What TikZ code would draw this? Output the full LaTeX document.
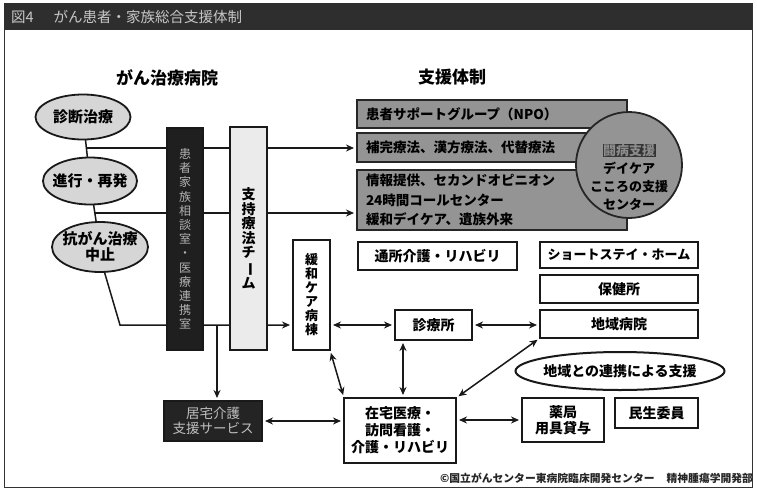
\documentclass[tikz,border=0pt]{standalone}
\usepackage{fontspec}
\setmainfont{Noto Sans CJK JP}
\usepackage{graphicx}
\usetikzlibrary{arrows.meta,shapes.geometric,backgrounds}
\tikzset{
  every node/.style={inner sep=0pt, outer sep=0pt},
  wbox/.style={draw=black!90, line width=1.8pt, fill=white, align=center,
    font=\bfseries\fontsize{14}{17}\selectfont},
  sbox/.style={draw=black!85, line width=1.8pt, fill=black!42, align=left,
    inner xsep=9pt, text width=252pt, minimum width=270pt,
    font=\bfseries\fontsize{13.5}{19.5}\selectfont},
  oval/.style={ellipse, draw=black!90, line width=1.8pt, fill=black!16},
  ovtext/.style={align=center, font=\bfseries\fontsize{15}{16}\selectfont},
  vbar/.style={draw=black!90, line width=1.5pt, align=center},
  conn/.style={line width=1.5pt, draw=black!90},
  arr/.style={conn, -{Stealth[length=8pt,width=7pt]}, shorten >=3pt},
  darr/.style={conn, {Stealth[length=8pt,width=7pt]}-{Stealth[length=8pt,width=7pt]}, shorten >=3pt, shorten <=3pt},
  heading/.style={font=\bfseries\fontsize{17}{17}\selectfont},
}
\begin{document}
\begin{tikzpicture}[x=1pt,y=-1pt]
\useasboundingbox (0,0) rectangle (757,490);
% frame and title bar
\draw[line width=1pt, black!80] (4,3) rectangle (752,487);
\fill[black!82] (4,3) rectangle (752,30);
\node[anchor=west, text=black!22, font=\fontsize{14.5}{14.5}\selectfont] (title) at (11,16.5)
  {図4\hspace{20pt}がん患者・家族総合支援体制};
% headings
\node[heading] (h1) at (167,78) {がん治療病院};
\node[heading] (h2) at (452,77) {支援体制};
% left ellipses
\node[oval, minimum width=95pt, minimum height=45pt] (e1) at (83,117) {};
\node[ovtext] (e1t) at (e1) {診断治療};
\node[oval, minimum width=94pt, minimum height=47pt] (e2) at (90,181) {};
\node[ovtext] (e2t) at (e2) {進行・再発};
\node[oval, minimum width=96pt, minimum height=50pt] (e3) at (100,247) {};
\node[ovtext] (e3t) at (e3) {抗がん治療\\中止};
% vertical bars
\node[vbar, fill=black!88, minimum width=36pt, minimum height=222pt, text=black!30,
  font=\fontsize{12}{14.2}\selectfont] (dbar) at (185,239)
  {患\\者\\家\\族\\相\\談\\室\\・\\医\\療\\連\\携\\室};
\node[vbar, fill=black!8, minimum width=37pt, minimum height=223pt,
  font=\bfseries\fontsize{14}{14.5}\selectfont] (lbar) at (248.5,238.5)
  {支\\持\\療\\法\\チ\\\rotatebox[origin=c]{-90}{ー}\\ム};
\node[vbar, line width=1.8pt, fill=white, minimum width=37pt, minimum height=110pt,
  font=\bfseries\fontsize{13}{14}\selectfont] (kanwa) at (311.5,295)
  {緩\\和\\ケ\\ア\\病\\棟};
% shaded support boxes
\node[sbox, minimum height=28pt] (s1) at (492,114) {患者サポートグループ（NPO）};
\node[sbox, minimum height=29pt] (s2) at (492,147.5) {補完療法、漢方療法、代替療法};
\node[sbox, minimum height=60pt] (s3) at (492,200)
  {情報提供、セカンドオピニオン\\24時間コールセンター\\緩和デイケア、遺族外来};
\node[circle, draw=black!85, line width=1.8pt, fill=black!42, minimum size=106pt] (circ) at (629,165) {};
\node[align=center, font=\bfseries\fontsize{13}{18}\selectfont] (circt) at (629,177)
  {{\setlength\fboxsep{0.5pt}\colorbox{black!80}{\textcolor{black!45}{闘病支援}}}\\デイケア\\こころの支援\\センター};
% white boxes
\node[wbox, minimum width=159pt, minimum height=28pt] (tsusho) at (437.5,256) {通所介護・リハビリ};
\node[wbox, minimum width=158pt, minimum height=26pt, font=\bfseries\fontsize{13}{15}\selectfont] (short) at (619,255) {ショートステイ・ホーム};
\node[wbox, minimum width=158pt, minimum height=28pt] (hoken) at (619,289) {保健所};
\node[wbox, minimum width=158pt, minimum height=28pt] (chiiki) at (619,324) {地域病院};
\node[wbox, minimum width=77pt, minimum height=30pt] (shinryo) at (433.5,325) {診療所};
\node[oval, fill=white, line width=2pt, minimum width=209pt, minimum height=38pt] (renkei) at (620,371) {};
\node[font=\bfseries\fontsize{14}{14}\selectfont] (renkeit) at (renkei) {地域との連携による支援};
\node[draw=black!90, line width=1.5pt, fill=black!86, minimum width=98pt, minimum height=40pt,
  align=center, text=black!25, font=\fontsize{13.5}{15.5}\selectfont] (kyotaku) at (213,421)
  {居宅介護\\支援サービス};
\node[wbox, line width=2.6pt, minimum width=112pt, minimum height=65pt] (zaitaku) at (400,430.5)
  {在宅医療・\\訪問看護・\\介護・リハビリ};
\node[wbox, minimum width=82pt, minimum height=44pt, font=\bfseries\fontsize{14}{16}\selectfont] (yakkyoku) at (563,420) {薬局\\用具貸与};
\node[wbox, minimum width=83pt, minimum height=30pt] (minsei) at (656.5,413) {民生委員};
% footer
\node[anchor=east, font=\bfseries\fontsize{10.8}{10.8}\selectfont, text=black!85] (foot) at (753,478)
  {©国立がんセンター東病院臨床開発センター\hspace{12pt}精神腫瘍学開発部};
% connectors (behind the boxes)
\begin{scope}[on background layer]
\fill[white] (0,0) rectangle (757,490);
\coordinate (j1) at (86.4,148);
\coordinate (j2) at (95,213);
\coordinate (c3) at (120,325);
\coordinate (j3) at (217,325);
\draw[conn] (e1) -- (e2);
\draw[conn] (e2) -- (e3);
\draw[arr] (j1) -- (j1 -| s2.west);
\draw[arr] (j2) -- (j2 -| s3.west);
\draw[arr] (e3.-80) -- (c3) -- (c3 -| kanwa.west);
\draw[arr] (j3) -- (j3 |- kyotaku.north);
\draw[darr] (kanwa.east |- shinryo) -- (shinryo.west);
\draw[darr] (shinryo.east) -- (shinryo.east -| chiiki.west);
\draw[darr] (kanwa.south east) -- (zaitaku.north west);
\draw[darr] ([xshift=-30.5pt]shinryo.south) -- ([xshift=-30.5pt]shinryo.south |- zaitaku.north);
\draw[darr] (zaitaku.north east) -- (chiiki.south west);
\draw[darr] (kyotaku.east) -- (kyotaku.east -| zaitaku.west);
\draw[darr] (zaitaku.east |- yakkyoku) -- (yakkyoku.west);
\end{scope}
\end{tikzpicture}
\end{document}
